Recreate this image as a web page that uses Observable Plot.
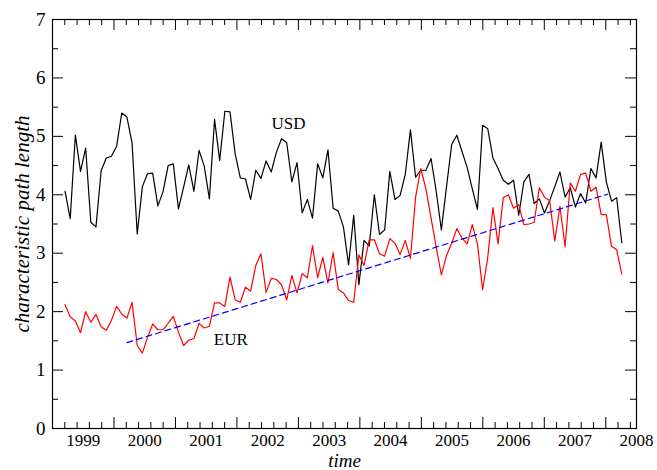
<!DOCTYPE html>
<html><head><meta charset="utf-8">
<script src="https://cdn.jsdelivr.net/npm/d3@7"></script>
<script src="https://cdn.jsdelivr.net/npm/@observablehq/plot@0.6"></script>
<style>html,body{margin:0;padding:0;background:#fff} svg text{font-family:"Liberation Serif","Times New Roman",serif !important;}</style>
</head><body><div id="chart"></div>
<script>
// characteristic path length, monthly, USD-based network
const usd = [4.06,3.59,5.02,4.40,4.80,3.53,3.45,4.41,4.63,4.66,4.83,5.40,5.33,4.89,3.33,4.14,4.36,4.37,3.81,4.05,
4.50,4.53,3.76,4.13,4.51,4.06,4.76,4.49,3.93,5.29,4.59,5.43,5.42,4.70,4.29,4.27,3.92,4.42,4.28,4.58,
4.39,4.73,4.96,4.89,4.22,4.55,3.69,3.92,3.60,4.53,4.29,4.77,3.77,3.72,3.45,2.80,3.65,2.46,3.22,3.12,
4.00,3.32,3.40,4.40,3.92,3.99,4.35,5.11,4.30,4.42,4.42,4.62,4.06,3.40,4.14,4.86,5.02,4.74,4.47,4.10,
3.75,5.19,5.13,4.63,4.45,4.25,4.18,4.25,3.65,4.22,4.35,3.85,3.93,3.69,3.90,4.14,4.39,3.96,4.12,3.79,
4.02,3.86,4.45,4.29,4.90,4.22,3.89,3.95,3.18];
// EUR-based network
const eur = [2.12,1.91,1.84,1.64,2.00,1.82,1.95,1.74,1.68,1.85,2.09,1.96,1.89,2.16,1.42,1.29,1.56,1.79,1.69,1.69,
1.80,1.92,1.65,1.42,1.51,1.54,1.80,1.72,1.75,2.15,2.15,2.09,2.59,2.20,2.16,2.42,2.35,2.79,2.99,2.33,
2.57,2.55,2.46,2.20,2.62,2.32,2.65,2.58,3.13,2.58,2.93,2.49,3.01,2.38,2.32,2.19,2.16,2.97,2.79,3.23,
3.23,2.99,2.95,3.25,3.17,2.98,3.22,2.91,3.96,4.45,4.10,3.60,3.10,2.63,2.96,3.17,3.42,3.26,3.16,3.49,
3.16,2.37,2.93,3.78,3.16,3.95,4.00,3.77,3.83,3.49,3.50,3.53,4.12,3.96,3.90,3.21,3.80,3.11,4.20,4.06,
4.35,4.37,4.06,4.13,3.66,3.66,3.12,3.06,2.64];
const startYear = 1998.704;   // time of first sample
const sampleStep = 0.08386;   // years between samples
const trendX = [1999.71, 2007.53];
const trendY = [1.47, 4.01];
const yearLabels = [1999,2000,2001,2002,2003,2004,2005,2006,2007,2008];
const yLabels = [0,1,2,3,4,5,6,7];
const seriesNames = ["USD","EUR"];
const seriesNameX = [2002.34, 2001.40];
const seriesNameY = [5.22, 1.52];

const W = 657, H = 470, mL = 52, mR = 21, mT = 19, mB = 42;
const xDomain = [1998.5, 2008], yDomain = [0, 7];
const ux = (xDomain[1]-xDomain[0])/(W-mL-mR);
const uy = (yDomain[1]-yDomain[0])/(H-mT-mB);
const majLen = 11, minLen = 6;
const serif = "'Liberation Serif', 'Times New Roman', serif";

const data = usd.map((v,i)=>({t: startYear + i*sampleStep, usd: v, eur: eur[i]}));
const trend = trendX.map((x,i)=>({x, y: trendY[i]}));
const names = seriesNames.map((s,i)=>({s, x: seriesNameX[i], y: seriesNameY[i]}));

const majorX = d3.range(1, 10).map(k => xDomain[0] + k);
const minorX = d3.range(1, 48).filter(i => i % 5 !== 0).map(i => xDomain[0] + i*0.2);
const majorY = yLabels;
const minorY = d3.range(0, 7).map(k => k + 0.5);

const tickStyle = {stroke: "black", strokeWidth: 1};

const chart = Plot.plot({
  width: W, height: H,
  marginLeft: mL, marginRight: mR, marginTop: mT, marginBottom: mB,
  x: {domain: xDomain},
  y: {domain: yDomain},
  style: {fontFamily: serif, fontSize: "18px", background: "white", color: "black"},
  marks: [
    Plot.line(data, {x: "t", y: "usd", stroke: "black", strokeWidth: 1.2}),
    Plot.line(data, {x: "t", y: "eur", stroke: "#ff0000", strokeWidth: 1.2}),
    Plot.line(trend, {x: "x", y: "y", stroke: "#0000ff", strokeWidth: 1.2, strokeDasharray: "6,4"}),
    // inward ticks
    Plot.ruleX(majorX, {x: d=>d, y1: yDomain[0], y2: yDomain[0] + majLen*uy, ...tickStyle}),
    Plot.ruleX(minorX, {x: d=>d, y1: yDomain[0], y2: yDomain[0] + minLen*uy, ...tickStyle}),
    Plot.ruleX(majorX, {x: d=>d, y1: yDomain[1], y2: yDomain[1] - majLen*uy, ...tickStyle}),
    Plot.ruleX(minorX, {x: d=>d, y1: yDomain[1], y2: yDomain[1] - minLen*uy, ...tickStyle}),
    Plot.ruleY(majorY, {y: d=>d, x1: xDomain[0], x2: xDomain[0] + majLen*ux, ...tickStyle}),
    Plot.ruleY(minorY, {y: d=>d, x1: xDomain[0], x2: xDomain[0] + minLen*ux, ...tickStyle}),
    Plot.ruleY(majorY, {y: d=>d, x1: xDomain[1], x2: xDomain[1] - majLen*ux, ...tickStyle}),
    Plot.ruleY(minorY, {y: d=>d, x1: xDomain[1], x2: xDomain[1] - minLen*ux, ...tickStyle}),
    Plot.frame({stroke: "black", strokeWidth: 1.2}),
    Plot.axisX(yearLabels, {tickSize: 0, tickPadding: 5, tickFormat: d => String(d), label: null, fontSize: 17, fontFamily: serif}),
    Plot.axisY(yLabels, {tickSize: 0, tickPadding: 7, tickFormat: d => String(d), label: null, fontSize: 19, fontFamily: serif}),
    Plot.text(["characteristic path length"], {frameAnchor: "left", dx: -30, rotate: -90, textAnchor: "middle", lineAnchor: "middle", fontStyle: "italic", fontSize: 21, fontFamily: serif}),
    Plot.text(["time"], {frameAnchor: "bottom", dy: 32, textAnchor: "middle", lineAnchor: "middle", fontStyle: "italic", fontSize: 19, fontFamily: serif}),
    Plot.text(names, {x: "x", y: "y", text: "s", fontSize: 17, fontFamily: serif})
  ]
});
document.getElementById("chart").appendChild(chart);
</script>
</body></html>
